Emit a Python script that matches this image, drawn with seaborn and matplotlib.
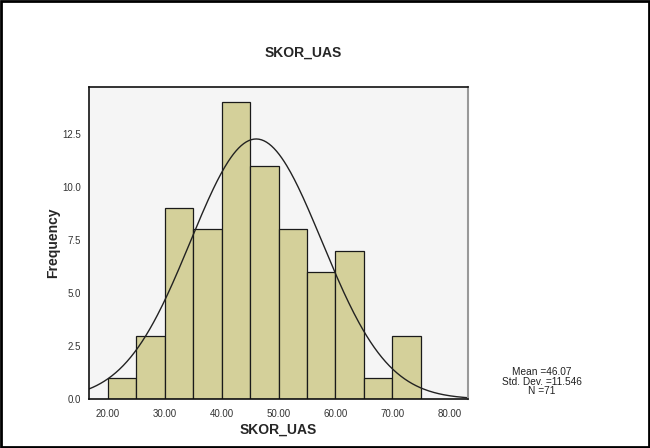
import numpy as np
import pandas as pd
import matplotlib
matplotlib.use('Agg')
import matplotlib.pyplot as plt
import seaborn as sns
from matplotlib.patches import Rectangle

# histogram of SKOR_UAS (bins of width 5)
bin_edges = [20, 25, 30, 35, 40, 45, 50, 55, 60, 65, 70, 75]
counts = [1, 3, 9, 8, 14, 11, 8, 6, 7, 1, 3]
mean_val = 46.07
std_val = 11.546
n_obs = 71
x_ticks = [20, 30, 40, 50, 60, 70, 80]
y_ticks = [0.0, 2.5, 5.0, 7.5, 10.0, 12.5]

sns.set_style('white')
plt.rcParams['font.family'] = ['Liberation Sans', 'DejaVu Sans']

fig = plt.figure(figsize=(6.5, 4.48), dpi=100)
ax = fig.add_axes([0.137, 0.109, 0.583, 0.697])
ax.set_facecolor('#f5f5f5')

centers = [(a + b) / 2 for a, b in zip(bin_edges[:-1], bin_edges[1:])]
df = pd.DataFrame({'score': centers, 'count': counts})
sns.histplot(data=df, x='score', weights='count', bins=bin_edges, ax=ax,
             color='#d4d09a', alpha=1, edgecolor='#1a1a1a', linewidth=0.9)

# normal curve scaled to frequency
xs = np.linspace(16.7, 83.3, 300)
width = bin_edges[1] - bin_edges[0]
ys = n_obs * width / (std_val * np.sqrt(2 * np.pi)) * np.exp(-0.5 * ((xs - mean_val) / std_val) ** 2)
sns.lineplot(x=xs, y=ys, ax=ax, color='#222222', linewidth=1.0)

ax.set_xlim(16.7, 83.3)
ax.set_ylim(0, 14.72)
ax.set_xticks(x_ticks)
ax.set_xticklabels([f'{v:.2f}' for v in x_ticks], fontsize=7, color='#333333')
ax.set_yticks(y_ticks)
ax.set_yticklabels([f'{v:.1f}' for v in y_ticks], fontsize=7, color='#333333')
ax.tick_params(axis='both', direction='out', length=4, width=0.8, color='#222222', pad=2)
ax.tick_params(axis='x', length=5)

for side in ['left', 'top', 'bottom']:
    ax.spines[side].set_color('#111111')
    ax.spines[side].set_linewidth(1.2)
ax.spines['right'].set_color('#999999')
ax.spines['right'].set_linewidth(1.5)

ax.set_xlabel('SKOR_UAS', fontsize=10, fontweight='bold', labelpad=3)
ax.set_ylabel('Frequency', fontsize=10, fontweight='bold', labelpad=1)

fig.text(0.466, 0.882, 'SKOR_UAS', ha='center', va='center', fontsize=10, fontweight='bold')
fig.text(0.833, 0.148, f'Mean ={mean_val:.2f}\nStd. Dev. ={std_val:.3f}\nN ={n_obs}',
         ha='center', va='center', fontsize=7.3, linespacing=0.95, color='#222222')

fig.patches.append(Rectangle((0.002, 0.003), 0.996, 0.994, transform=fig.transFigure,
                             fill=False, edgecolor='black', linewidth=2))

fig.savefig('out.png', dpi=100)
